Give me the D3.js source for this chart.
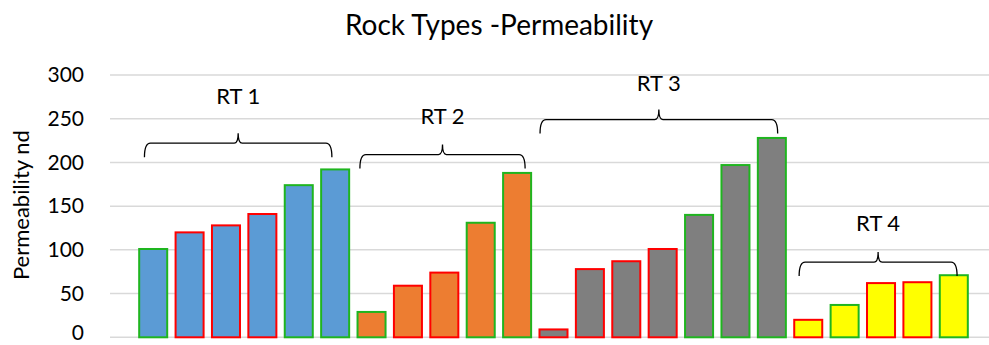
<!DOCTYPE html>
<html>
<head>
<meta charset="utf-8">
<script src="https://cdn.jsdelivr.net/npm/d3@7"></script>
<style>
  html, body { margin: 0; padding: 0; background: #ffffff; }
  svg { display: block; }
  text { font-family: Lato, "Noto Sans", sans-serif; fill: #000; }
</style>
</head>
<body>
<svg id="chart" width="989" height="345"></svg>
<script>
// Permeability of each sample, grouped by rock type
const rt1Values = [101, 120, 128, 141, 174, 192];
const rt2Values = [29, 59, 74, 131, 188];
const rt3Values = [9, 78, 87, 101, 140, 197, 228];
const rt4Values = [20, 37, 62, 63, 71];

// Outline flag per sample: "g" = green outline, "r" = red outline
const rt1Outline = ["g", "r", "r", "r", "g", "g"];
const rt2Outline = ["g", "r", "r", "g", "g"];
const rt3Outline = ["r", "r", "r", "r", "g", "g", "g"];
const rt4Outline = ["r", "g", "r", "r", "g"];

const groupNames = ["RT 1", "RT 2", "RT 3", "RT 4"];
const groupFills = ["#5b9bd5", "#ed7d31", "#7f7f7f", "#ffff00"];

// Brace annotations: span in category units, brace level and label level in data units
const braceFrom = [0.26, 6.18, 11.13, 18.25];
const braceTo = [5.41, 10.72, 17.66, 22.59];
const braceLevel = [222, 209, 249, 86];
const labelLevel = [276, 253, 291, 130];

const yTicks = [0, 50, 100, 150, 200, 250, 300];
const outlineColors = { g: "#1fb51f", r: "#ff0000" };

const groups = [rt1Values, rt2Values, rt3Values, rt4Values];
const outlines = [rt1Outline, rt2Outline, rt3Outline, rt4Outline];
const samples = [];
groups.forEach((vals, gi) => vals.forEach((v, i) => {
  samples.push({ idx: samples.length, group: gi, value: v, outline: outlines[gi][i] });
}));

const svg = d3.select("#chart");
const n = samples.length;

const x = d3.scaleBand()
  .domain(d3.range(n))
  .range([135, 972])
  .paddingInner(0.23)
  .paddingOuter(0.115);
const xPos = d3.scaleLinear().domain([0, n]).range([135, 972]);
const y = d3.scaleLinear().domain([0, 300]).range([337.3, 75]);

// Horizontal gridlines
svg.append("g")
  .selectAll("line")
  .data(yTicks)
  .join("line")
  .attr("x1", 110)
  .attr("x2", 989)
  .attr("y1", d => y(d))
  .attr("y2", d => y(d))
  .attr("stroke", "#d9d9d9")
  .attr("stroke-width", 1.5);

// Y axis tick labels
const yAxis = d3.axisLeft(y).tickValues(yTicks).tickSize(0).tickPadding(0);
const yg = svg.append("g").attr("transform", "translate(84,0)").call(yAxis);
yg.select(".domain").remove();
yg.selectAll("text")
  .attr("font-family", "Lato, 'Noto Sans', sans-serif")
  .attr("font-size", 21)
  .attr("fill", "#000");
// keep the bottom label inside the frame
yg.selectAll("text").filter(d => d === 0).attr("dy", "0.12em");

// Axis title
svg.append("text")
  .attr("transform", `translate(29,${y(150) - 1}) rotate(-90)`)
  .attr("text-anchor", "middle")
  .attr("font-size", 22)
  .text("Permeability nd");

// Chart title
svg.append("text")
  .attr("x", 499)
  .attr("y", 35)
  .attr("text-anchor", "middle")
  .attr("font-size", 28)
  .text("Rock Types -Permeability");

// Bars
svg.append("g")
  .selectAll("rect")
  .data(samples)
  .join("rect")
  .attr("x", d => x(d.idx))
  .attr("width", x.bandwidth())
  .attr("y", d => y(d.value))
  .attr("height", d => y(0) - y(d.value))
  .attr("fill", d => groupFills[d.group])
  .attr("stroke", d => outlineColors[d.outline])
  .attr("stroke-width", 2);

// Curly braces over each rock type
const tipDepth = 14, peakHeight = 10, r = 6;
function bracePath(x0, x1, yh) {
  const xm = (x0 + x1) / 2;
  return `M${x0},${yh + tipDepth}` +
    ` Q${x0},${yh} ${x0 + r},${yh}` +
    ` L${xm - 4},${yh}` +
    ` Q${xm},${yh} ${xm},${yh - peakHeight}` +
    ` Q${xm},${yh} ${xm + 4},${yh}` +
    ` L${x1 - r},${yh}` +
    ` Q${x1},${yh} ${x1},${yh + tipDepth}`;
}

const braces = groupNames.map((name, i) => ({
  name, from: braceFrom[i], to: braceTo[i], level: braceLevel[i], label: labelLevel[i]
}));

svg.append("g")
  .selectAll("path")
  .data(braces)
  .join("path")
  .attr("d", d => bracePath(xPos(d.from), xPos(d.to), y(d.level)))
  .attr("fill", "none")
  .attr("stroke", "#000")
  .attr("stroke-width", 1.3);

svg.append("g")
  .selectAll("text")
  .data(braces)
  .join("text")
  .attr("x", d => (xPos(d.from) + xPos(d.to)) / 2)
  .attr("y", d => y(d.label))
  .attr("dy", "0.35em")
  .attr("text-anchor", "middle")
  .attr("font-size", 22)
  .text(d => d.name);
</script>
</body>
</html>
